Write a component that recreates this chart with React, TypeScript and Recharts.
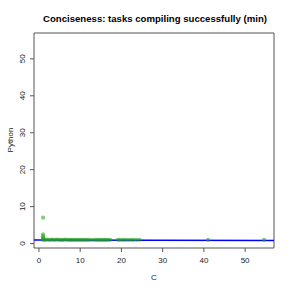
import React from 'react';
import { ScatterChart, Scatter, XAxis, YAxis, ReferenceLine, ReferenceArea } from 'recharts';

// C solution size vs Python solution size (min), one point per task
const cSizes = [
  1, 1, 1, 1, 1, 1, 1.3, 1.6, 2, 2.4, 2.8, 3.2, 3.6, 4, 4.4, 4.8, 5.2, 5.6, 6, 6.4, 6.8, 7.2,
  7.6, 8, 8.4, 8.8, 9.2, 9.6, 10, 10.4, 10.8, 11.2, 11.6, 12, 12.5, 13.1, 13.6, 14, 14.4,
  14.8, 15.2, 15.6, 16, 16.4, 16.8, 17.3, 19.1, 19.6, 20.2, 20.7, 21.2, 21.8, 22.4, 23,
  23.7, 24.4, 41, 54.6,
];
const pythonSizes = [
  7, 2.5, 2, 1.6, 1.3, 1, 1.1, 1, 1.1, 1, 1, 1.1, 1, 1, 1.1, 1, 1, 1, 1, 1.1, 1, 1,
  1, 1, 1, 1, 1, 1, 1, 1, 1, 1, 1, 1, 1, 1, 1, 1, 1,
  1, 1, 1, 1, 1, 1, 1, 1, 1, 1, 1, 1, 1, 1, 1,
  1, 1, 1, 1,
];
const axisTicks = [0, 10, 20, 30, 40, 50];
const axisDomain: [number, number] = [-1.2, 57];
// fitted line (Python = a + b * C)
const fitStart = 0.95;
const fitEnd = 0.82;

const points = cSizes.map((c, i) => ({ c, py: pythonSizes[i] }));

const font = '"Liberation Sans", Arial, sans-serif';

const YTick = (props: any) => {
  const { x, y, payload } = props;
  return (
    <text
      x={x - 3}
      y={y}
      transform={`rotate(-90, ${x - 3}, ${y})`}
      textAnchor="middle"
      fontSize={8}
      fontFamily={font}
      fill="#222"
    >
      {payload.value}
    </text>
  );
};

const Dot = (props: any) => (
  <circle cx={props.cx} cy={props.cy} r={2.1} fill="#1f9e1f" fillOpacity={0.55} />
);

export default function App() {
  return (
    <div style={{ position: 'relative', width: 291, height: 291, background: '#fff', fontFamily: font }}>
      <style>{'body{margin:0}'}</style>
      <div
        style={{
          position: 'absolute', top: 13, left: 0, width: 310, textAlign: 'center',
          fontSize: 9.6, fontWeight: 'bold', color: '#000',
        }}
      >
        Conciseness: tasks compiling successfully (min)
      </div>
      <div style={{ position: 'absolute', top: 273, left: 34, width: 240, textAlign: 'center', fontSize: 8, color: '#222' }}>
        C
      </div>
      <div
        style={{
          position: 'absolute', left: 10, top: 140, fontSize: 8, color: '#222',
          transform: 'translate(-50%, -50%) rotate(-90deg)', whiteSpace: 'nowrap',
        }}
      >
        Python
      </div>
      <ScatterChart width={291} height={291} margin={{ top: 33, right: 17, bottom: 0, left: 0 }}>
        <XAxis
          type="number"
          dataKey="c"
          domain={axisDomain}
          ticks={axisTicks}
          allowDataOverflow
          axisLine={false}
          tickSize={4}
          tickMargin={5}
          tickLine={{ stroke: '#555' }}
          tick={{ fontSize: 8, fill: '#222', fontFamily: font }}
          height={43}
        />
        <YAxis
          type="number"
          dataKey="py"
          domain={axisDomain}
          ticks={axisTicks}
          allowDataOverflow
          axisLine={false}
          tickSize={4}
          tickLine={{ stroke: '#555' }}
          tick={<YTick />}
          width={34}
        />
        <ReferenceArea
          x1={axisDomain[0]}
          x2={axisDomain[1]}
          y1={axisDomain[0]}
          y2={axisDomain[1]}
          fill="none"
          stroke="#555"
          strokeWidth={1}
          ifOverflow="visible"
        />
        <Scatter data={points} shape={<Dot />} isAnimationActive={false} />
        <ReferenceLine
          segment={[
            { x: axisDomain[0], y: fitStart },
            { x: axisDomain[1], y: fitEnd },
          ]}
          stroke="#0000ff"
          strokeWidth={1.5}
          ifOverflow="visible"
        />
      </ScatterChart>
    </div>
  );
}
